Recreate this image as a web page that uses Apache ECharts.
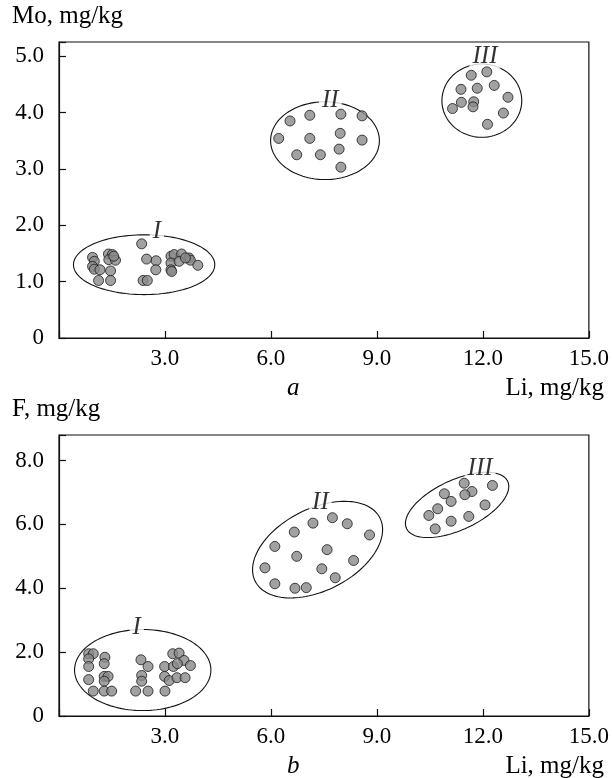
<!DOCTYPE html>
<html>
<head>
<meta charset="utf-8">
<script src="https://cdn.jsdelivr.net/npm/echarts@6/dist/echarts.min.js"></script>
<style>
html,body{margin:0;padding:0;background:#fff;}
#c{width:612px;height:778px;}
</style>
</head>
<body>
<div id="c"></div>
<script>
// ---- data (Li, mg/kg vs Mo / F, mg/kg) ----
const xTicks = [0, 3, 6, 9, 12, 15];
const moTicks = [0, 1, 2, 3, 4, 5];
const fTicks = [0, 2, 4, 6, 8];

// Panel a: Li vs Mo
const moGroupI = [
  [2.34,1.67],[0.95,1.43],[1.00,1.36],[0.95,1.27],[1.00,1.22],[1.16,1.21],
  [1.40,1.49],[1.51,1.48],[1.41,1.39],[1.60,1.38],[1.46,1.19],[1.12,1.02],
  [1.46,1.02],[1.55,1.45],[2.48,1.40],[2.75,1.37],[2.74,1.21],[2.38,1.02],
  [2.50,1.02],[3.17,1.45],[3.26,1.48],[3.47,1.49],[3.68,1.42],[3.17,1.33],
  [3.40,1.36],[3.72,1.38],[3.17,1.21],[3.19,1.18],[3.93,1.29],[3.58,1.42]
];
const moGroupII = [
  [6.54,3.85],[7.10,3.95],[7.98,3.97],[8.58,3.94],[6.22,3.54],[7.10,3.54],
  [7.96,3.63],[8.58,3.51],[6.73,3.25],[7.40,3.25],[7.93,3.35],[7.98,3.03]
];
const moGroupIII = [
  [11.67,4.66],[12.11,4.72],[11.38,4.41],[11.84,4.43],[12.32,4.48],[12.71,4.27],
  [11.39,4.18],[11.74,4.19],[11.72,4.10],[11.14,4.07],[12.58,3.99],[12.13,3.79]
];

// Panel b: Li vs F
const fGroupI = [
  [0.84,1.95],[0.97,1.95],[0.84,1.79],[1.30,1.84],[0.84,1.55],[1.28,1.64],
  [0.84,1.14],[1.28,1.24],[1.39,1.24],[1.28,1.09],[0.97,0.78],[1.28,0.78],
  [1.49,0.78],[2.32,1.76],[2.52,1.55],[2.34,1.27],[2.34,1.09],[2.17,0.78],
  [2.52,0.78],[3.00,0.78],[3.22,1.95],[3.40,1.97],[3.54,1.74],[2.99,1.55],
  [3.24,1.55],[3.35,1.64],[3.72,1.58],[2.99,1.24],[3.12,1.11],[3.34,1.20],
  [3.57,1.20]
];
const fGroupII = [
  [7.19,6.04],[7.74,6.21],[8.16,6.02],[6.66,5.76],[8.79,5.67],[6.11,5.31],
  [6.73,5.00],[7.59,5.21],[8.34,4.87],[5.83,4.64],[7.44,4.61],[7.82,4.33],
  [6.11,4.14],[6.68,4.00],[7.00,4.02]
];
const fGroupIII = [
  [11.47,7.29],[12.27,7.22],[11.69,7.03],[11.49,6.93],[10.91,6.96],[11.10,6.72],
  [12.06,6.61],[10.72,6.49],[10.47,6.28],[11.60,6.25],[11.10,6.10],[10.65,5.86]
];

// group outlines: [centerX, centerY, semiX (Li units), semiY (value units), tilt deg]
const moOutlines = [
  [2.41,1.30,2.00,0.53,0],
  [7.53,3.50,1.54,0.69,0],
  [11.97,4.21,1.13,0.65,0]
];
const fOutlines = [
  [2.37,1.44,1.93,1.27,0],
  [7.32,5.21,1.98,1.28,27],
  [11.27,6.61,1.58,0.78,25]
];
// group labels
const groupNames = ['I','II','III'];
const moLabelPos = [[2.77,1.89],[7.68,4.22],[12.06,5.00]];
const fLabelPos = [[2.20,2.78],[7.40,6.69],[11.92,7.75]];

// ---- chart ----
const FONT = '"Liberation Serif","Times New Roman",serif';
const chart = echarts.init(document.getElementById('c'), null, {renderer:'canvas'});

function fmtY(v){
  if (Math.abs(v - Math.round(v)) > 1e-6) return '';
  return v === 0 ? '0' : v.toFixed(1);
}
function fmtX(v){
  if (v === 0) return '';
  if (Math.abs(v/3 - Math.round(v/3)) > 1e-6) return '';
  return v.toFixed(1);
}
function ellipseItem(params, api){
  const c = api.coord([api.value(0), api.value(1)]);
  const a = api.size([api.value(2), 0])[0];
  const b = api.size([0, api.value(3)])[1];
  const ang = api.value(4) * Math.PI / 180;
  const pts = [];
  for (let i = 0; i < 120; i++){
    const t = i / 120 * Math.PI * 2;
    const ex = a * Math.cos(t), ey = b * Math.sin(t);
    pts.push([c[0] + ex*Math.cos(ang) - ey*Math.sin(ang),
              c[1] - (ex*Math.sin(ang) + ey*Math.cos(ang))]);
  }
  return {type:'polygon', shape:{points:pts},
    style:{fill:'none', stroke:'#111', lineWidth:1.1}};
}
const pointStyle = {color:'#8a8a8a', borderColor:'#1a1a1a', borderWidth:1};
function pts(data, idx){
  return {type:'scatter', xAxisIndex:idx, yAxisIndex:idx, data:data,
    symbolSize:10, itemStyle:pointStyle, z:3, silent:true};
}
function labels(pos, idx){
  return {type:'scatter', xAxisIndex:idx, yAxisIndex:idx, symbolSize:0, z:2,
    data: pos.map((p,i)=>({value:p, name:groupNames[i]})),
    label:{show:true, position:'inside', formatter:'{b}', color:'#000',
      fontFamily:FONT, fontStyle:'italic', fontSize:25,
      backgroundColor:'#fff', padding:[0,3,0,3]}, silent:true};
}
function axisX(idx){
  return {type:'value', gridIndex:idx, min:xTicks[0], max:xTicks[xTicks.length-1], interval:3,
    axisLine:{show:true, lineStyle:{color:'#111', width:1.2}},
    axisTick:{show:true, inside:true, length:7, lineStyle:{color:'#111', width:1.2}},
    axisLabel:{formatter:fmtX, color:'#000', fontFamily:FONT, fontSize:23, margin:9, showMaxLabel:true},
    splitLine:{show:false}};
}
function axisY(idx, ticks, max, interval){
  return {type:'value', gridIndex:idx, min:ticks[0], max:max, interval:interval,
    axisLine:{show:true, lineStyle:{color:'#111', width:1.2}},
    axisTick:{show:true, inside:true, length:7, lineStyle:{color:'#111', width:1.2}},
    axisLabel:{formatter:fmtY, color:'#000', fontFamily:FONT, fontSize:23, margin:15},
    splitLine:{show:false}};
}
const titleStyle = {fontFamily:FONT, fontSize:25, fontWeight:'normal', color:'#000'};
const italicStyle = {fontFamily:FONT, fontSize:25, fontWeight:'normal', fontStyle:'italic', color:'#000'};

chart.setOption({
  animation:false,
  backgroundColor:'#fff',
  title:[
    {text:'Mo, mg/kg', left:12, top:4, textStyle:titleStyle, padding:0},
    {text:'Li, mg/kg', right:8, top:376, textStyle:titleStyle, padding:0},
    {text:'a', left:287, top:376, textStyle:italicStyle, padding:0},
    {text:'F, mg/kg', left:12, top:397, textStyle:titleStyle, padding:0},
    {text:'Li, mg/kg', right:8, top:754, textStyle:titleStyle, padding:0},
    {text:'b', left:287, top:754, textStyle:italicStyle, padding:0}
  ],
  grid:[
    {left:59, top:42, width:541, height:296, show:true, borderColor:'#111', borderWidth:1.2, backgroundColor:'transparent'},
    {left:59, top:435, width:541, height:281, show:true, borderColor:'#111', borderWidth:1.2, backgroundColor:'transparent'}
  ],
  xAxis:[axisX(0), axisX(1)],
  yAxis:[axisY(0, moTicks, 5.25, 1), axisY(1, fTicks, 8.8, 2)],
  series:[
    {type:'custom', xAxisIndex:0, yAxisIndex:0, data:moOutlines, renderItem:ellipseItem, z:1, silent:true, clip:false},
    {type:'custom', xAxisIndex:1, yAxisIndex:1, data:fOutlines, renderItem:ellipseItem, z:1, silent:true, clip:false},
    pts(moGroupI,0), pts(moGroupII,0), pts(moGroupIII,0),
    pts(fGroupI,1), pts(fGroupII,1), pts(fGroupIII,1),
    labels(moLabelPos,0), labels(fLabelPos,1)
  ]
});
</script>
</body>
</html>
